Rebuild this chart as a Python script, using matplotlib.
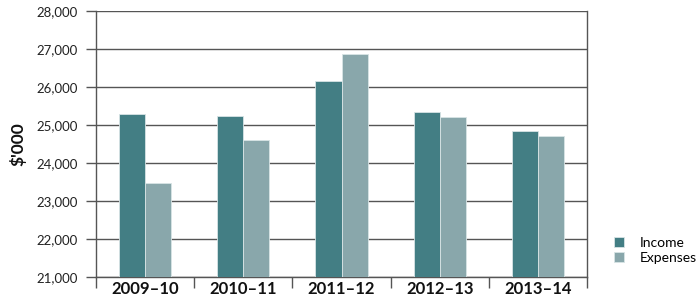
import matplotlib
matplotlib.use("Agg")
import matplotlib.pyplot as plt
import numpy as np

categories = ["2009–10", "2010–11", "2011–12", "2012–13", "2013–14"]
income = [25300, 25245, 26165, 25350, 24850]
expenses = [23470, 24600, 26870, 25200, 24720]
yticks = [21000, 22000, 23000, 24000, 25000, 26000, 27000, 28000]

plt.rcParams['font.family'] = ['Lato', 'DejaVu Sans']

fig = plt.figure(figsize=(7, 2.98), dpi=100)
ax = fig.add_axes([96/700, 21/298, 491/700, 266/298])

x = np.arange(len(categories))
w = 0.265
c_inc = "#437E84"
c_exp = "#89A7AB"
ax.bar(x - w/2, income, w, color=c_inc, edgecolor="#d8e4e5", linewidth=0.6, label="Income", zorder=3)
ax.bar(x + w/2, expenses, w, color=c_exp, edgecolor="#d8e4e5", linewidth=0.6, label="Expenses", zorder=3)

ax.set_ylim(21000, 28000)
ax.set_xlim(-0.5, len(categories) - 0.5)
ax.set_yticks(yticks)
ax.set_yticklabels([f"{v:,}" for v in yticks], fontsize=9.5, color="#222222")
ax.yaxis.grid(True, color="#555555", linewidth=1.0, zorder=0)
ax.tick_params(axis='y', length=7, width=1.0, color="#555555", pad=6)

ax.set_xticks(x)
ax.set_xticklabels(categories, fontsize=12, fontweight='bold', color="#111111")
ax.tick_params(axis='x', which='major', length=0, pad=3)
ax.set_xticks(np.arange(-0.5, len(categories)), minor=True)
ax.tick_params(axis='x', which='minor', length=8, width=1.0, color="#555555", direction='out')

for s in ['top']:
    ax.spines[s].set_visible(False)
for s in ['left', 'right', 'bottom']:
    ax.spines[s].set_color("#555555")
    ax.spines[s].set_linewidth(1.0)

ax.set_ylabel("$'000", fontsize=12.5, fontweight='bold', labelpad=7, color="#111111")

leg = fig.legend(loc='center left', bbox_to_anchor=(614/700, 1 - 250.5/298), frameon=False,
                 fontsize=10, handlelength=0.75, handleheight=0.75, handletextpad=1.1,
                 labelspacing=0.25, borderpad=0, borderaxespad=0)

fig.savefig("out.png", dpi=100)
